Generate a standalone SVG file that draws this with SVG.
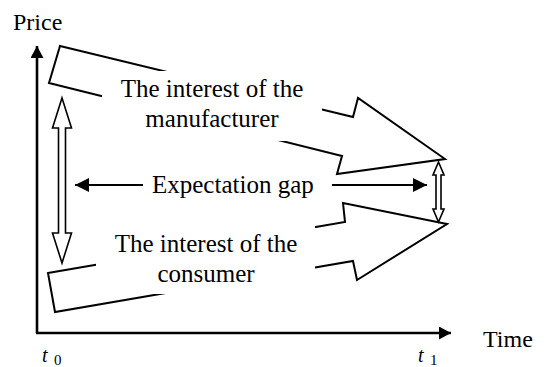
<svg xmlns="http://www.w3.org/2000/svg" width="545" height="367" viewBox="0 0 545 367">
<style>
text{font-family:"Liberation Serif","Times New Roman",serif;fill:#000}
.lbl{font-size:25px}
.ax{font-size:24px}
.shape{fill:#fff;stroke:#000;stroke-width:2;stroke-linejoin:miter}
.hollow{fill:#fff;stroke:#000;stroke-width:1.6}
.line{stroke:#000;stroke-width:2;fill:none}
.axis{stroke:#000;stroke-width:2.6;fill:none}
.mask{fill:#fff;stroke:none}
</style>
<defs>
<marker id="ah" markerWidth="14" markerHeight="14" refX="12" refY="6" orient="auto" markerUnits="userSpaceOnUse" viewBox="0 0 12 12">
<path d="M0,0 L12,6 L0,12 Z" fill="#000"/>
</marker>
<marker id="axh" markerWidth="13" markerHeight="13" refX="12" refY="6.5" orient="auto" markerUnits="userSpaceOnUse" viewBox="0 0 13 13">
<path d="M0,0 L12,6.5 L0,13 Z" fill="#000"/>
</marker>
</defs>
<g id="axes">
<line class="axis" x1="37" y1="333" x2="37" y2="46" marker-end="url(#axh)"/>
<line class="axis" x1="36" y1="333" x2="451" y2="333" marker-end="url(#axh)"/>
<text class="ax" x="13" y="30">Price</text>
<text class="ax" x="483" y="347">Time</text>
<text x="42" y="362" font-size="20" font-style="italic">t</text>
<text x="54" y="365" font-size="15">0</text>
<text x="418" y="362" font-size="20" font-style="italic">t</text>
<text x="430" y="365" font-size="15">1</text>
</g>
<g id="manufacturer">
<polygon class="shape" points="60,46 353,117 358,98 445,159 337,174 342,156 49,83"/>
<rect class="mask" x="102" y="71" width="220" height="70"/>
<text class="lbl" x="212" y="97" text-anchor="middle">The interest of the</text>
<text class="lbl" x="212" y="127" text-anchor="middle">manufacturer</text>
</g>
<g id="consumer">
<polygon class="shape" points="48,273 345,222 343,203 447,224 357,280 353,261 55,312"/>
<rect class="mask" x="96" y="222" width="219" height="72"/>
<text class="lbl" x="206" y="252" text-anchor="middle">The interest of the</text>
<text class="lbl" x="206" y="282" text-anchor="middle">consumer</text>
</g>
<g id="gap-left">
<path class="hollow" d="M62,98 L71.5,128 L65.5,128 L65.5,233 L71.5,233 L62,263 L52.5,233 L58.5,233 L58.5,128 L52.5,128 Z"/>
</g>
<g id="gap-right">
<path class="hollow" d="M438.5,162 L444,175 L441,175 L441,209 L444,209 L438.5,222 L433,209 L436,209 L436,175 L433,175 Z"/>
</g>
<g id="expectation-gap">
<text class="lbl" x="152" y="193">Expectation gap</text>
</g>
<g id="connectors">
<line class="line" x1="143" y1="185" x2="75" y2="185" marker-end="url(#ah)"/>
<line class="line" x1="332" y1="185" x2="427" y2="185" marker-end="url(#ah)"/>
</g>
</svg>
